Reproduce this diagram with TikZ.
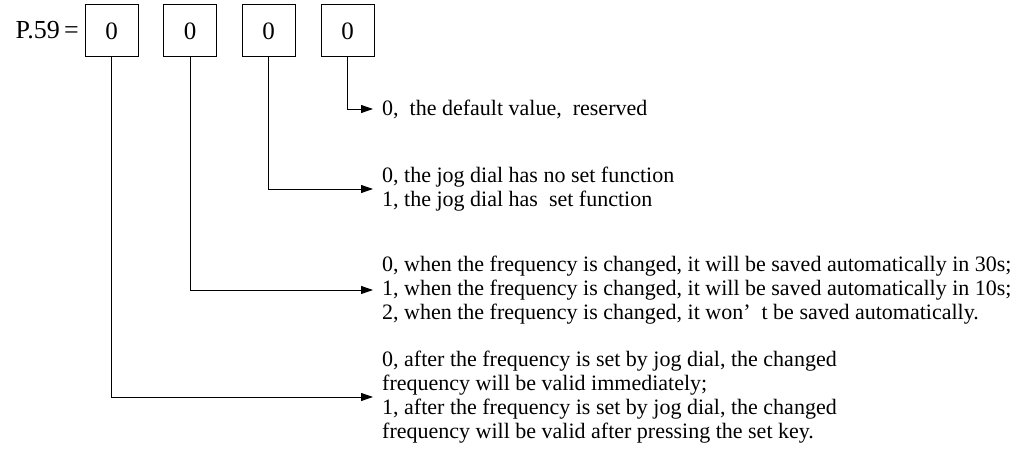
\documentclass[tikz,border=0pt]{standalone}
\usepackage{fontspec}
\setmainfont{Liberation Serif}
\usetikzlibrary{arrows.meta}
\begin{document}
\begin{tikzpicture}[x=1pt,y=-1pt,
  digitbox/.style={draw=black,line width=1pt,minimum width=53pt,minimum height=52pt,inner sep=0pt,font=\fontsize{25}{27}\selectfont},
  desc/.style={anchor=west,align=left,inner xsep=9pt,inner ysep=0pt,font=\fontsize{22}{24}\selectfont},
  conn/.style={line width=0.9pt,-{Triangle[length=12pt,width=8pt]}}]
\useasboundingbox (0,0) rectangle (1020,454);
\node[anchor=base east,inner sep=0pt,font=\fontsize{26}{28}\selectfont] (lbl) at (79,39) {P.59\,=};
\node[digitbox] (b1) at (111.5,31) {0};
\node[digitbox] (b2) at (190,31) {0};
\node[digitbox] (b3) at (268.5,31) {0};
\node[digitbox] (b4) at (347.5,31) {0};
\node[desc] (t4) at (373,109) {0,\ \ the default value,\ \ reserved};
\node[desc] (t3) at (373,189) {0, the jog dial has no set function\\ 1, the jog dial has\ \ set function};
\node[desc] (t2) at (373,290) {0, when the frequency is changed, it will be saved automatically in 30s;\\ 1, when the frequency is changed, it will be saved automatically in 10s;\\ 2, when the frequency is changed, it won’\ \ t be saved automatically.};
\node[desc] (t1) at (373,397) {0, after the frequency is set by jog dial, the changed\\ frequency will be valid immediately;\\ 1, after the frequency is set by jog dial, the changed\\ frequency will be valid after pressing the set key.};
\draw[conn] (b4) |- (t4);
\draw[conn] (b3) |- (t3);
\draw[conn] (b2) |- (t2);
\draw[conn] (b1) |- (t1);
\end{tikzpicture}
\end{document}
